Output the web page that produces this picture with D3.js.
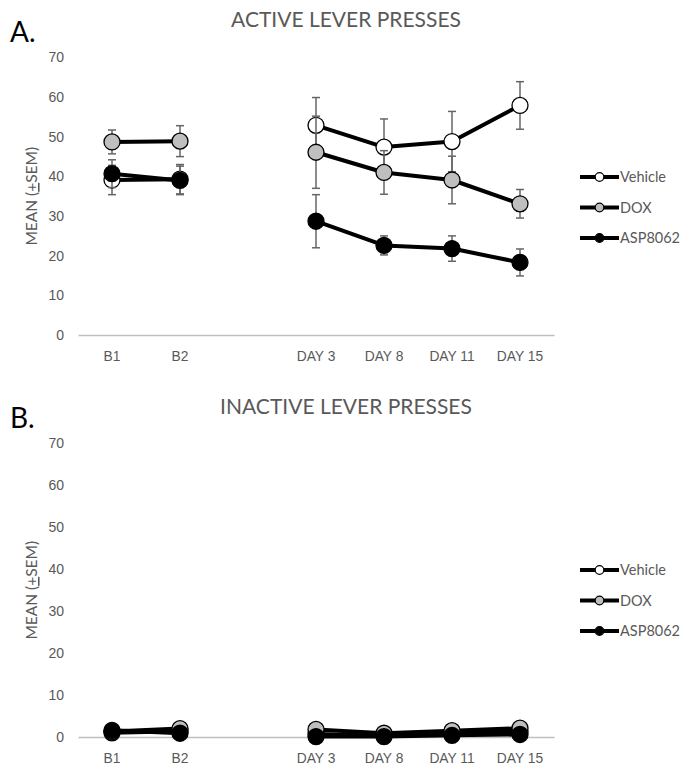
<!DOCTYPE html>
<html>
<head>
<meta charset="utf-8">
<script src="https://cdn.jsdelivr.net/npm/d3@7"></script>
<style>
  body { margin: 0; background: #fff; }
  svg { display: block; font-family: Lato, "Open Sans", sans-serif; }
</style>
</head>
<body>
<svg id="chart" width="681" height="767"></svg>
<script>
// values (Excel style line chart with SEM error bars)
const categories = ["B1", "B2", "", "DAY 3", "DAY 8", "DAY 11", "DAY 15"];
const seriesNames = ["Vehicle", "DOX", "ASP8062"];
const seriesFill = ["#ffffff", "#bfbfbf", "#000000"];
const yTicks = [0, 10, 20, 30, 40, 50, 60, 70];

const activeVehicle = [39.1, 39.3, null, 52.9, 47.4, 48.8, 57.9];
const activeVehicleSem = [3.7, 3.7, null, 7.0, 7.1, 7.6, 6.0];
const activeDox = [48.7, 48.9, null, 46.1, 41.0, 39.1, 33.1];
const activeDoxSem = [3.0, 3.9, null, 9.1, 5.5, 6.0, 3.6];
const activeAsp = [40.7, 39.0, null, 28.7, 22.6, 21.8, 18.3];
const activeAspSem = [3.5, 3.6, null, 6.7, 2.4, 3.2, 3.4];

const inactiveVehicle = [1.0, 1.4, null, 0.7, 0.3, 0.8, 1.3];
const inactiveVehicleSem = [0.4, 0.5, null, 0.4, 0.2, 0.4, 0.5];
const inactiveDox = [1.3, 2.0, null, 1.8, 0.9, 1.5, 2.1];
const inactiveDoxSem = [0.5, 0.6, null, 0.6, 0.4, 0.5, 0.6];
const inactiveAsp = [1.6, 0.9, null, 0.1, 0.1, 0.4, 0.6];
const inactiveAspSem = [0.5, 0.4, null, 0.1, 0.1, 0.3, 0.3];

const svg = d3.select("#chart");
const grey = "#595959";

const x = d3.scaleBand().domain(categories).range([78, 554]);

function panel(opt) {
    const y = d3.scaleLinear().domain([0, 70]).range([opt.bottom, opt.top]);
    const g = svg.append("g");

    // panel letter + title
    g.append("text").attr("x", 10).attr("y", opt.letterY)
        .attr("font-size", 28).attr("fill", "#000").text(opt.letter);
    g.append("text").attr("x", 346).attr("y", opt.titleY)
        .attr("text-anchor", "middle").attr("font-size", 21)
        .attr("fill", grey).text(opt.title);

    // y axis (labels only)
    const ya = g.append("g").attr("transform", "translate(78,0)")
        .call(d3.axisLeft(y).tickValues(yTicks).tickSize(0).tickPadding(14));
    ya.select(".domain").remove();
    ya.selectAll("text").attr("font-size", 14).attr("fill", grey).attr("font-family", null);

    // x axis
    const xa = g.append("g").attr("transform", `translate(0,${opt.bottom})`)
        .call(d3.axisBottom(x).tickSize(0).tickSizeOuter(0).tickPadding(16));
    xa.select(".domain").attr("stroke", "#bfbfbf").attr("stroke-width", 1.5);
    xa.selectAll("text").attr("font-size", 13.8).attr("fill", grey).attr("font-family", null);

    // y axis title
    const yt = g.append("text")
        .attr("transform", `translate(37,${(opt.top + opt.bottom) / 2}) rotate(-90)`)
        .attr("text-anchor", "middle").attr("font-size", 15.5).attr("fill", grey);
    yt.append("tspan").text("MEAN (");
    yt.append("tspan").attr("text-decoration", "underline").text("+");
    yt.append("tspan").text("SEM)");

    const line = d3.line()
        .defined(d => d.v != null)
        .x(d => x(d.c) + x.bandwidth() / 2)
        .y(d => y(d.v));

    opt.values.forEach((vals, i) => {
        const pts = categories.map((c, j) => ({c: c, v: vals[j], e: opt.sems[i][j]}));
        const ok = pts.filter(d => d.v != null);
        const eb = g.append("g").attr("stroke", "#666").attr("stroke-width", 1.5);
        ok.forEach(d => {
            const cx = x(d.c) + x.bandwidth() / 2;
            eb.append("line").attr("x1", cx).attr("x2", cx)
                .attr("y1", y(d.v - d.e)).attr("y2", y(d.v + d.e));
            [d.v - d.e, d.v + d.e].forEach(v => {
                eb.append("line").attr("x1", cx - 4).attr("x2", cx + 4)
                    .attr("y1", y(v)).attr("y2", y(v));
            });
        });
        g.append("path").datum(pts).attr("d", line)
            .attr("fill", "none").attr("stroke", "#000").attr("stroke-width", 4)
            .attr("stroke-linejoin", "round");
        g.append("g").selectAll("circle").data(ok).join("circle")
            .attr("cx", d => x(d.c) + x.bandwidth() / 2)
            .attr("cy", d => y(d.v))
            .attr("r", 8)
            .attr("fill", seriesFill[i])
            .attr("stroke", "#000").attr("stroke-width", 1.3);
    });

    // legend
    const lg = g.append("g");
    seriesNames.forEach((name, i) => {
        const ly = opt.legendY + i * 30.5;
        lg.append("line").attr("x1", 580).attr("x2", 619).attr("y1", ly).attr("y2", ly)
            .attr("stroke", "#000").attr("stroke-width", 4);
        lg.append("circle").attr("cx", 599.5).attr("cy", ly).attr("r", 4.3)
            .attr("fill", seriesFill[i]).attr("stroke", "#000").attr("stroke-width", 1.2);
        lg.append("text").attr("x", 620).attr("y", ly).attr("dy", "0.35em")
            .attr("font-size", 14.5).attr("fill", grey).text(name);
    });
}

panel({
    letter: "A.", letterY: 42, title: "ACTIVE LEVER PRESSES", titleY: 27,
    top: 57.5, bottom: 335, legendY: 177,
    values: [activeVehicle, activeDox, activeAsp],
    sems: [activeVehicleSem, activeDoxSem, activeAspSem]
});
panel({
    letter: "B.", letterY: 428, title: "INACTIVE LEVER PRESSES", titleY: 414,
    top: 443.5, bottom: 737, legendY: 570,
    values: [inactiveVehicle, inactiveDox, inactiveAsp],
    sems: [inactiveVehicleSem, inactiveDoxSem, inactiveAspSem]
});
</script>
</body>
</html>
